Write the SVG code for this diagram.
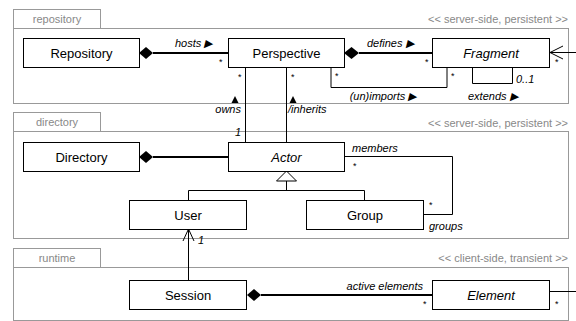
<svg xmlns="http://www.w3.org/2000/svg" width="576" height="321" viewBox="0 0 576 321">
<style>
.pkg{fill:#fff;stroke:#999;stroke-width:1}
.tabt{font-family:"Liberation Sans",Arial,sans-serif;font-size:11px;fill:#888;text-anchor:middle}
.ster{font-family:"Liberation Sans",Arial,sans-serif;font-size:11px;fill:#888;text-anchor:end}
.box{fill:#fff;stroke:#000;stroke-width:1}
.nt{font-family:"Liberation Sans",Arial,sans-serif;font-size:13px;fill:#000;text-anchor:middle}
.it{font-style:italic}
.lb{font-family:"Liberation Sans",Arial,sans-serif;font-size:11px;font-style:italic;fill:#000}
.st{font-family:"Liberation Sans",Arial,sans-serif;font-size:9px;fill:#000}
.ln{fill:none;stroke:#000;stroke-width:1}
.thick{fill:none;stroke:#000;stroke-width:2}
.dia{fill:#000;stroke:none}
</style>
<g id="packages">
  <rect class="pkg" x="13.5" y="9.5" width="87" height="19"/>
  <rect class="pkg" x="13.5" y="28.5" width="555" height="75"/>
  <text class="tabt" x="57" y="23">repository</text>
  <text class="ster" x="568" y="23">&lt;&lt; server-side, persistent &gt;&gt;</text>
  <rect class="pkg" x="13.5" y="112.5" width="87" height="19"/>
  <rect class="pkg" x="13.5" y="131.5" width="555" height="107"/>
  <text class="tabt" x="57" y="126">directory</text>
  <text class="ster" x="568" y="127">&lt;&lt; server-side, persistent &gt;&gt;</text>
  <rect class="pkg" x="13.5" y="248.5" width="87" height="19"/>
  <rect class="pkg" x="13.5" y="267.5" width="555" height="53"/>
  <text class="tabt" x="57" y="262">runtime</text>
  <text class="ster" x="568" y="262">&lt;&lt; client-side, transient &gt;&gt;</text>
</g>
<g id="connectors">
  <line class="thick" x1="153" y1="53" x2="228" y2="53"/>
  <polygon class="dia" points="139,53 146,47 153,53 146,59"/>
  <text class="lb" x="175" y="47">hosts ▶</text>
  <text class="st" x="219" y="65">*</text>

  <line class="thick" x1="359" y1="53" x2="432" y2="53"/>
  <polygon class="dia" points="344,53 351.5,47 359,53 351.5,59"/>
  <text class="lb" x="367" y="47">defines ▶</text>
  <text class="st" x="425" y="65">*</text>

  <polyline class="ln" points="331,68 331,87.5 447,87.5 447,68"/>
  <text class="st" x="335" y="79">*</text>
  <text class="st" x="451" y="79">*</text>
  <text class="lb" x="383" y="100" text-anchor="middle">(un)imports ▶</text>

  <polyline class="ln" points="472.5,68 472.5,83.5 512.5,83.5 512.5,68"/>
  <text class="lb" x="516" y="83">0..1</text>
  <text class="lb" x="468" y="100">extends ▶</text>

  <line class="ln" x1="550" y1="52.5" x2="576" y2="52.5"/>
  <polyline class="ln" points="563,46 550,52.5 563,59"/>
  <text class="st" x="555" y="65">*</text>

  <line class="ln" x1="245.5" y1="68" x2="245.5" y2="142"/>
  <line class="ln" x1="286.5" y1="68" x2="286.5" y2="142"/>
  <text class="st" x="238" y="80">*</text>
  <text class="st" x="291" y="80">*</text>
  <polygon class="dia" points="235,96 238.5,103 231.5,103"/>
  <polygon class="dia" points="293,96 296.5,103 289.5,103"/>
  <text class="lb" x="241" y="113" text-anchor="end">owns</text>
  <text class="lb" x="288" y="113">/inherits</text>
  <text class="lb" x="235" y="136">1</text>

  <line class="thick" x1="153" y1="157" x2="228" y2="157"/>
  <polygon class="dia" points="139,157 146,151 153,157 146,163"/>

  <polyline class="ln" points="344,156.5 452.5,156.5 452.5,214.5 423,214.5"/>
  <text class="lb" x="352" y="152">members</text>
  <text class="st" x="353" y="169">*</text>
  <text class="st" x="429" y="208">*</text>
  <text class="lb" x="429" y="230">groups</text>

  <polygon points="286.5,171 296.5,181 276.5,181" fill="#fff" stroke="#000" stroke-width="1"/>
  <line class="ln" x1="286.5" y1="181" x2="286.5" y2="190"/>
  <polyline class="ln" points="188.5,200 188.5,190.5 364.5,190.5 364.5,200"/>

  <line class="ln" x1="188.5" y1="280" x2="188.5" y2="229"/>
  <polyline class="ln" points="183,241 188.5,229 194,241"/>
  <text class="lb" x="198" y="244">1</text>

  <line class="thick" x1="261" y1="295" x2="432" y2="295"/>
  <polygon class="dia" points="247,295 254,289 261,295 254,301"/>
  <text class="lb" x="423" y="290" text-anchor="end">active elements</text>
  <text class="st" x="423" y="307">*</text>
  <line class="ln" x1="549" y1="291.5" x2="576" y2="291.5"/>
  <text class="st" x="555" y="307">*</text>
</g>
<g id="Repository"><rect class="box" x="23.5" y="38.5" width="116" height="29"/><text class="nt" x="81.5" y="58">Repository</text></g>
<g id="Perspective"><rect class="box" x="228.5" y="38.5" width="116" height="29"/><text class="nt" x="286.5" y="58">Perspective</text></g>
<g id="Fragment"><rect class="box" x="432.5" y="38.5" width="117" height="29"/><text class="nt it" x="491" y="58">Fragment</text></g>
<g id="Directory"><rect class="box" x="23.5" y="142.5" width="116" height="29"/><text class="nt" x="81.5" y="162">Directory</text></g>
<g id="Actor"><rect class="box" x="228.5" y="142.5" width="116" height="29"/><text class="nt it" x="286.5" y="162">Actor</text></g>
<g id="User"><rect class="box" x="129.5" y="200.5" width="117" height="29"/><text class="nt" x="188" y="220">User</text></g>
<g id="Group"><rect class="box" x="306.5" y="200.5" width="117" height="29"/><text class="nt" x="365" y="220">Group</text></g>
<g id="Session"><rect class="box" x="129.5" y="280.5" width="117" height="29"/><text class="nt" x="188" y="300">Session</text></g>
<g id="Element"><rect class="box" x="432.5" y="280.5" width="117" height="29"/><text class="nt it" x="491" y="300">Element</text></g>
</svg>
